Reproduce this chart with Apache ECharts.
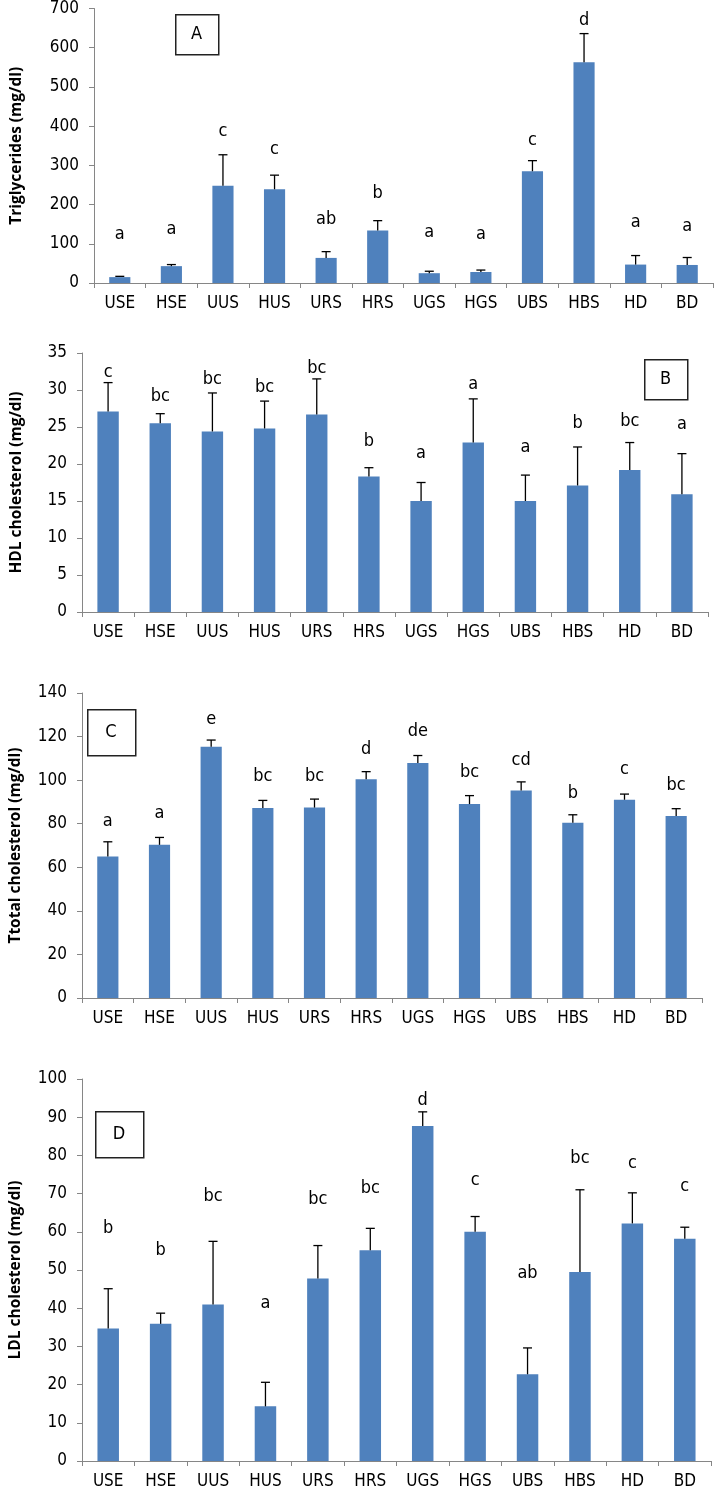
<!DOCTYPE html>
<html>
<head>
<meta charset="utf-8">
<script src="https://cdn.jsdelivr.net/npm/echarts@6/dist/echarts.min.js"></script>
<style>
html,body{margin:0;padding:0;background:#fff;}
#chart{width:714px;height:1501px;}
</style>
</head>
<body>
<div id="chart"></div>
<script>
const categories = ['USE','HSE','UUS','HUS','URS','HRS','UGS','HGS','UBS','HBS','HD','BD'];

// Panel A: Triglycerides
const trigMean = [15,43,248,239,64,134,25,28,285,563,47,46];
const trigErr = [2,4,79,36,16,25,5,5,27,73,23,19];
const trigLetters = ['a','a','c','c','ab','b','a','a','c','d','a','a'];
const trigLetterY = [125,138,387,341,163,228,129,125,364,669,154,144];

// Panel B: HDL cholesterol
const hdlMean = [27.1,25.5,24.4,24.8,26.7,18.3,15.0,22.9,15.0,17.1,19.2,15.9];
const hdlErr = [3.9,1.3,5.2,3.7,4.8,1.2,2.5,5.9,3.5,5.2,3.7,5.5];
const hdlLetters = ['c','bc','bc','bc','bc','b','a','a','a','b','bc','a'];
const hdlLetterY = [32.4,29.1,31.5,30.4,32.9,23.1,21.4,30.8,22.2,25.5,25.8,25.3];

// Panel C: Total cholesterol
const tcMean = [64.9,70.3,115.3,87.2,87.4,100.4,107.9,89.0,95.2,80.4,91.0,83.5];
const tcErr = [6.8,3.4,3.1,3.5,3.9,3.5,3.4,3.9,4.0,3.7,2.6,3.4];
const tcLetters = ['a','a','e','bc','bc','d','de','bc','cd','b','c','bc'];
const tcLetterY = [80.9,84.7,127.7,101.6,101.6,114.2,122.4,103.5,109.3,94,105,97.8];

// Panel D: LDL cholesterol
const ldlMean = [34.7,35.9,41.0,14.3,47.8,55.2,87.7,60.0,22.7,49.5,62.2,58.2];
const ldlErr = [10.4,2.8,16.5,6.3,8.6,5.7,3.7,4.0,6.9,21.5,8.0,3.0];
const ldlLetters = ['b','b','bc','a','bc','bc','d','c','ab','bc','c','c'];
const ldlLetterY = [60.8,55.1,69.3,41.3,68.4,71.3,94.5,73.5,49,79.2,78,72];

// Axis settings
const yTitles = ['Triglycerides (mg/dl)','HDL cholesterol (mg/dl)','Ttotal cholesterol (mg/dl)','LDL cholesterol (mg/dl)'];
const yMax = [700,35,140,100];
const yInterval = [100,5,20,10];
const panelLabels = ['A','B','C','D'];

const NARROW = "'Liberation Sans Narrow','DejaVu Sans Condensed','Arial Narrow',sans-serif";
const TITLEFONT = "'Open Sans','DejaVu Sans',sans-serif";
const BAR = '#4F81BD';
const AXIS = '#868686';

const panels = [
  {mean: trigMean, err: trigErr, letters: trigLetters, ly: trigLetterY},
  {mean: hdlMean, err: hdlErr, letters: hdlLetters, ly: hdlLetterY},
  {mean: tcMean, err: tcErr, letters: tcLetters, ly: tcLetterY},
  {mean: ldlMean, err: ldlErr, letters: ldlLetters, ly: ldlLetterY}
];

const grids = [
  {left: 94, top: 7, width: 619, height: 276},
  {left: 82, top: 353, width: 626, height: 259},
  {left: 80, top: 693, width: 622, height: 305},
  {left: 80, top: 1079, width: 631, height: 382}
];
const nameGaps = [69, 57, 58, 58];
const boxes = [
  {x: 175, y: 14, w: 43, h: 40},
  {x: 644, y: 359, w: 43, h: 40},
  {x: 87, y: 709, w: 48, h: 46},
  {x: 95, y: 1111, w: 48, h: 46}
];

const xAxes = [], yAxes = [], series = [], graphics = [];
panels.forEach((p, k) => {
  xAxes.push({
    type: 'category', gridIndex: k, data: categories,
    axisLine: {lineStyle: {color: AXIS, width: 1}},
    axisTick: {show: true, length: 5, lineStyle: {color: AXIS}},
    axisLabel: {color: '#000', fontFamily: NARROW, fontSize: 17, margin: 12}
  });
  yAxes.push({
    type: 'value', gridIndex: k, min: 0, max: yMax[k], interval: yInterval[k],
    name: yTitles[k], nameLocation: 'middle', nameGap: nameGaps[k], nameRotate: 90,
    nameTextStyle: {fontFamily: TITLEFONT, fontWeight: 'bold', fontSize: 15.5, color: '#000'},
    axisLine: {show: true, lineStyle: {color: AXIS, width: 1}},
    axisTick: {show: true, length: 5, lineStyle: {color: AXIS}},
    splitLine: {show: false},
    axisLabel: {color: '#000', fontFamily: NARROW, fontSize: 17, margin: 15}
  });
  series.push({
    type: 'bar', xAxisIndex: k, yAxisIndex: k, data: p.mean,
    barWidth: '41%', itemStyle: {color: BAR}, silent: true, animation: false
  });
  series.push({
    type: 'custom', xAxisIndex: k, yAxisIndex: k, z: 5, animation: false, silent: true,
    data: p.mean.map((m, i) => [i, m, m + p.err[i]]),
    renderItem: (params, api) => {
      const x = api.value(0);
      const a = api.coord([x, api.value(1)]);
      const b = api.coord([x, api.value(2)]);
      const st = {stroke: '#000', lineWidth: 1.3};
      return {type: 'group', children: [
        {type: 'line', shape: {x1: a[0], y1: a[1], x2: b[0], y2: b[1]}, style: st},
        {type: 'line', shape: {x1: b[0] - 4.5, y1: b[1], x2: b[0] + 4.5, y2: b[1]}, style: st}
      ]};
    }
  });
  series.push({
    type: 'custom', xAxisIndex: k, yAxisIndex: k, z: 6, animation: false, silent: true,
    data: p.ly.map((v, i) => [i, v]),
    renderItem: (params, api) => {
      const i = api.value(0);
      const c = api.coord([i, api.value(1)]);
      return {type: 'text', x: c[0], y: c[1], style: {
        text: p.letters[i], align: 'center', verticalAlign: 'middle',
        fontFamily: NARROW, fontSize: 18, fill: '#000'
      }};
    }
  });
  const bx = boxes[k];
  graphics.push({type: 'rect', left: bx.x, top: bx.y, shape: {width: bx.w, height: bx.h},
    style: {fill: '#fff', stroke: '#222', lineWidth: 1.5}, z: 10});
  graphics.push({type: 'text', x: bx.x + bx.w / 2, y: bx.y + bx.h / 2, z: 11,
    style: {text: panelLabels[k], align: 'center', verticalAlign: 'middle',
      fontFamily: NARROW, fontSize: 18, fill: '#000'}});
});

const chart = echarts.init(document.getElementById('chart'), null, {renderer: 'canvas'});
chart.setOption({
  animation: false,
  backgroundColor: '#fff',
  grid: grids.map(g => Object.assign({containLabel: false}, g)),
  xAxis: xAxes,
  yAxis: yAxes,
  series: series,
  graphic: graphics
});
</script>
</body>
</html>
